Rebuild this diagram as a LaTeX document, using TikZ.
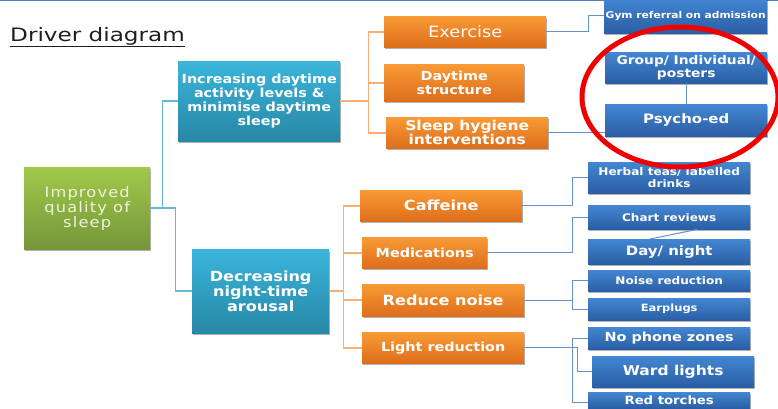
\documentclass[tikz,border=0pt]{standalone}
\usepackage{fontspec}
\setmainfont{DejaVu Sans}[FakeStretch=1.15]
\newfontfamily\spacedfont[LetterSpace=8,FakeStretch=1.12]{DejaVu Sans}
\newfontfamily\titlefont[FakeStretch=1.25]{DejaVu Sans}
\usetikzlibrary{shadows}
\definecolor{orT}{HTML}{F89A35}
\definecolor{orB}{HTML}{DE6E1C}
\definecolor{tlT}{HTML}{3AB5DA}
\definecolor{tlB}{HTML}{2887A6}
\definecolor{grT}{HTML}{9FC94A}
\definecolor{grB}{HTML}{76963A}
\definecolor{blT}{HTML}{4386D2}
\definecolor{blB}{HTML}{2A5EA4}
\definecolor{orL}{HTML}{F8AE74}
\definecolor{tlL}{HTML}{66B6D6}
\definecolor{blL}{HTML}{6590C8}
\definecolor{topline}{HTML}{4F81BD}
\definecolor{ringred}{HTML}{F00000}
\definecolor{grtext}{HTML}{EEF4DA}
\newcommand{\fs}[2]{\fontsize{#1}{#2}\selectfont}
\tikzset{
  bx/.style={anchor=north west, inner sep=0pt, align=center, text=white,
    drop shadow={shadow xshift=1.2pt, shadow yshift=-1.6pt, opacity=0.3, fill=black}},
  obox/.style={bx, top color=orT, bottom color=orB},
  tbox/.style={bx, top color=tlT, bottom color=tlB},
  gbox/.style={bx, top color=grT, bottom color=grB},
  bbox/.style={bx, top color=blT, bottom color=blB},
  oline/.style={draw=orL, line width=1.6pt},
  tline/.style={draw=tlL, line width=1.6pt},
  bline/.style={draw=blL, line width=1.4pt},
}
\begin{document}
\begin{tikzpicture}[x=1pt,y=-1pt]
\clip (0,0) rectangle (778,408);
\useasboundingbox (0,0) rectangle (778,408);
\fill[white] (0,0) rectangle (778,408);
\draw[topline, line width=2pt] (0,0) -- (778,0);

% title
\node[anchor=north west, inner sep=0pt, text=black!88, font={\titlefont\fs{18.5}{22}}] (title) at (10,27)
  {\underline{Driver diagram}};

% level 1
\node[gbox, minimum width=126, minimum height=82, text=grtext, font={\spacedfont\fs{14.5}{15}}] (goal) at (24,167)
  {Improved\\quality of\\sleep};

% level 2
\node[tbox, minimum width=162, minimum height=80, font={\bfseries\fs{12.5}{13.8}}] (inc) at (178,61)
  {Increasing daytime\\activity levels \&\\minimise daytime\\sleep};
\node[tbox, minimum width=137, minimum height=84, font={\bfseries\fs{14}{14.6}}] (dec) at (192,249)
  {Decreasing\\night-time\\arousal};

% level 3 (top)
\node[obox, minimum width=162, minimum height=31, font={\fs{15.5}{17}}] (ex) at (384,16)
  {Exercise};
\node[obox, minimum width=140, minimum height=37, font={\bfseries\fs{12.5}{13.5}}] (ds) at (384,64)
  {Daytime\\structure};
\node[obox, minimum width=162, minimum height=31, font={\bfseries\fs{13.5}{13.5}}] (shi) at (386,117)
  {Sleep hygiene\\interventions};

% level 3 (bottom)
\node[obox, minimum width=162, minimum height=31, font={\bfseries\fs{14}{16}}] (caf) at (360,190)
  {Caffeine};
\node[obox, minimum width=125, minimum height=31, font={\bfseries\fs{12.5}{15}}] (med) at (362,237)
  {Medications};
\node[obox, minimum width=162, minimum height=32, font={\bfseries\fs{14}{16}}] (rn) at (362,284)
  {Reduce noise};
\node[obox, minimum width=162, minimum height=31, font={\bfseries\fs{12.5}{15}}] (lr) at (362,332)
  {Light reduction};

% level 4 (top)
\node[bbox, minimum width=163, minimum height=35, font={\bfseries\fs{9.3}{11}}] (gym) at (604,-2)
  {Gym referral on admission};
\node[bbox, minimum width=162, minimum height=31, font={\bfseries\fs{12}{13}}] (grp) at (605,52)
  {Group/ Individual/\\posters};
\node[bbox, minimum width=162, minimum height=32, font={\bfseries\fs{13}{15}}] (psy) at (605,104)
  {Psycho-ed};

% level 4 (bottom)
\node[bbox, minimum width=162, minimum height=31, font={\bfseries\fs{10.5}{11.5}}] (herb) at (588,162)
  {Herbal teas/ labelled\\drinks};
\node[bbox, minimum width=162, minimum height=24, font={\bfseries\fs{10.5}{12}}] (chart) at (588,205)
  {Chart reviews};
\node[bbox, minimum width=162, minimum height=25, font={\bfseries\fs{13}{15}}] (day) at (588,239)
  {Day/ night};
\node[bbox, minimum width=162, minimum height=21, font={\bfseries\fs{10.5}{12}}] (nr) at (588,270)
  {Noise reduction};
\node[bbox, minimum width=162, minimum height=22, font={\bfseries\fs{10}{12}}] (ep) at (588,298)
  {Earplugs};
\node[bbox, minimum width=162, minimum height=22, font={\bfseries\fs{12.5}{15}}] (npz) at (588,327)
  {No phone zones};
\node[bbox, minimum width=162, minimum height=31, font={\bfseries\fs{13.5}{15}}] (ward) at (592,356)
  {Ward lights};
\node[bbox, minimum width=162, minimum height=16, font={\bfseries\fs{11.5}{13}}] (red) at (588,392)
  {Red torches};

% connectors level1 -> level2
\draw[tline] (goal.east) -- ++(12,0) |- (inc.west);
\draw[tline] (goal.east) -- ++(25,0) |- (dec.west);

% level2 -> level3
\draw[oline] (inc.east) -- ++(28,0) coordinate (b1);
\draw[oline] (b1) |- (ex.west);
\draw[oline] (b1) |- (ds.west);
\draw[oline] (b1) |- (shi.west);
\draw[oline] (dec.east) -- ++(14,0) coordinate (b2);
\draw[oline] (b2) |- (caf.west);
\draw[oline] (b2) |- (med.west);
\draw[oline] (b2) |- (rn.west);
\draw[oline] (b2) |- (lr.west);

% level3 -> level4
\draw[bline] (ex.east) -- ++(42,0) |- (gym.west);
\draw[bline] (shi.east) -- (psy.west |- shi.east);
\draw[bline] (grp.south) -- (psy.north);
\draw[bline] (caf.east) -- ++(50,0) |- (herb.west);
\draw[bline] (med.east) -- ++(85,0) |- (chart.west);
\draw[bline, line width=1pt] ([xshift=28pt]chart.south) -- ([xshift=-19pt]day.north);
\draw[bline] (rn.east) -- ++(48,0) coordinate (b3);
\draw[bline] (b3) |- (nr.west);
\draw[bline] (b3) |- (ep.west);
\draw[bline] (lr.east) -- ++(53,0) |- (ward.west);
\draw[bline] (lr.east) -- ++(48,0) coordinate (b4);
\draw[bline] (b4) |- (npz.west);
\draw[bline] (b4) |- ([yshift=-2pt]red.west);

% red ring
\draw[ringred, line width=5pt] (680,97) ellipse [x radius=98, y radius=70];
\end{tikzpicture}
\end{document}
